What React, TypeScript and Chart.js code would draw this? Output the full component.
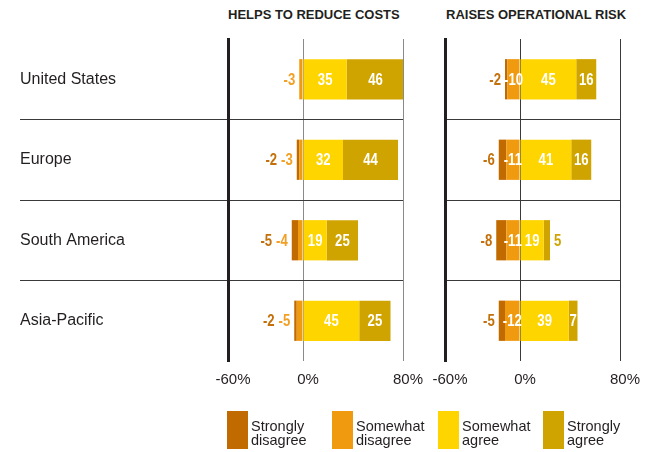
import React, { useEffect, useRef } from "react";
import { Chart, registerables } from "chart.js";

Chart.register(...registerables);

// ---------- data ----------
const categories = ["United States", "Europe", "South America", "Asia-Pacific"];
const seriesNames = ["Strongly disagree", "Somewhat disagree", "Somewhat agree", "Strongly agree"];
const panelTitles = ["HELPS TO REDUCE COSTS", "RAISES OPERATIONAL RISK"];
const tickValues = [-60, 0, 80];

const costsStronglyDisagree = [0, -2, -5, -2];
const costsSomewhatDisagree = [-3, -3, -4, -5];
const costsSomewhatAgree = [35, 32, 19, 45];
const costsStronglyAgree = [46, 44, 25, 25];

const riskStronglyDisagree = [-2, -6, -8, -5];
const riskSomewhatDisagree = [-10, -11, -11, -12];
const riskSomewhatAgree = [45, 41, 19, 39];
const riskStronglyAgree = [16, 16, 5, 7];

// ---------- styles ----------
const FAMILY = "'Liberation Sans', Arial, Helvetica, sans-serif";
const NUM_FONT = "bold 16px 'Liberation Sans', Arial, sans-serif";
const NUM_SQUEEZE = 0.82;
const TEXT = "#231f20";
const COL_SD = "#C06A00";
const COL_SWD = "#F09A10";
const COL_SWA = "#FFD500";
const COL_SA = "#D0A400";
const LBL_SD = "#C4700A";
const LBL_SWD = "#F2A024";
const LBL_SA = "#D0A400";

function drawNum(ctx: CanvasRenderingContext2D, t: string, x: number, y: number, align: CanvasTextAlign, color: string) {
  ctx.save();
  ctx.translate(x, y);
  ctx.scale(NUM_SQUEEZE, 1);
  ctx.fillStyle = color;
  ctx.textAlign = align;
  ctx.textBaseline = "middle";
  ctx.fillText(t, 0, 0);
  ctx.restore();
}

const segLabels = {
  id: "segLabels",
  afterDatasetsDraw(chart: any) {
    const ctx: CanvasRenderingContext2D = chart.ctx;
    const ds = chart.data.datasets;
    const find = (k: string) => ds.findIndex((d: any) => d.key === k);
    const idx = { sd: find("sd"), swd: find("swd"), swa: find("swa"), sa: find("sa") };
    ctx.save();
    ctx.font = NUM_FONT;
    for (let i = 0; i < chart.data.labels.length; i++) {
      const g = (k: "sd" | "swd" | "swa" | "sa") => {
        const el: any = chart.getDatasetMeta(idx[k]).data[i];
        return {
          v: ds[idx[k]].data[i] as number,
          l: Math.min(el.x, el.base),
          r: Math.max(el.x, el.base),
          y: el.y + 1,
        };
      };
      const sd = g("sd"), swd = g("swd"), swa = g("swa"), sa = g("sa");
      const barLeft = Math.min(sd.v !== 0 ? sd.l : swd.l, swd.l);
      let next = barLeft - 4;
      if (swd.v !== 0) {
        const t = String(swd.v);
        if (Math.abs(swd.v) >= 10) {
          drawNum(ctx, t, (swd.l + swd.r) / 2, swd.y, "center", "#ffffff");
        } else {
          drawNum(ctx, t, next, swd.y, "right", LBL_SWD);
          next = next - ctx.measureText(t).width * NUM_SQUEEZE - 4;
        }
      }
      if (sd.v !== 0) {
        drawNum(ctx, String(sd.v), next, sd.y, "right", LBL_SD);
      }
      if (swa.v !== 0) {
        drawNum(ctx, String(swa.v), (swa.l + swa.r) / 2, swa.y, "center", "#ffffff");
      }
      if (sa.v !== 0) {
        if (sa.v >= 7) {
          drawNum(ctx, String(sa.v), (sa.l + sa.r) / 2, sa.y, "center", "#ffffff");
        } else {
          drawNum(ctx, String(sa.v), sa.r + 4, sa.y, "left", LBL_SA);
        }
      }
    }
    ctx.restore();
  },
};

function makeConfig(
  sd: number[],
  swd: number[],
  swa: number[],
  sa: number[],
  withLabels: boolean,
  padLeft: number,
  padRight: number,
  vGridColor: string
): any {
  const common = { barPercentage: 1, categoryPercentage: 0.5, borderWidth: 0, stack: "s" };
  return {
    type: "bar",
    data: {
      labels: categories,
      datasets: [
        { key: "swd", label: seriesNames[1], data: swd, backgroundColor: COL_SWD, ...common },
        { key: "sd", label: seriesNames[0], data: sd, backgroundColor: COL_SD, ...common },
        { key: "swa", label: seriesNames[2], data: swa, backgroundColor: COL_SWA, ...common },
        { key: "sa", label: seriesNames[3], data: sa, backgroundColor: COL_SA, ...common },
      ],
    },
    plugins: [segLabels],
    options: {
      indexAxis: "y",
      responsive: false,
      animation: false,
      events: [],
      layout: { padding: { left: padLeft, right: padRight, top: 39, bottom: 452 - 361 - 30 } },
      plugins: { legend: { display: false }, tooltip: { enabled: false }, title: { display: false } },
      scales: {
        x: {
          type: "linear",
          stacked: true,
          min: -60,
          max: 80,
          afterBuildTicks: (s: any) => {
            s.ticks = tickValues.map((v) => ({ value: v }));
          },
          afterFit: (s: any) => {
            s.height = 30;
          },
          grid: {
            color: (c: any) => (c.tick && c.tick.value === -60 ? "rgba(0,0,0,0)" : vGridColor),
            lineWidth: 1,
            drawTicks: false,
          },
          border: { display: false },
          ticks: {
            autoSkip: false,
            maxRotation: 0,
            callback: (v: any) => v + "%",
            color: TEXT,
            font: { size: 15, family: FAMILY },
            padding: 10,
            labelOffset: 5,
          },
        },
        y: {
          type: "category",
          stacked: true,
          afterFit: (s: any) => {
            s.width = withLabels ? 208 : 0;
          },
          grid: {
            offset: true,
            color: (c: any) =>
              c.index === undefined || c.index === 0 || c.index >= categories.length ? "rgba(0,0,0,0)" : "#3a3a3a",
            lineWidth: 1,
            drawTicks: withLabels,
            tickLength: withLabels ? 208 : 0,
          },
          border: { display: true, color: TEXT, width: 3 },
          ticks: {
            display: withLabels,
            crossAlign: "far",
            color: TEXT,
            font: { size: 16, family: FAMILY },
            padding: 0,
          },
        },
      },
    },
  };
}

function Panel(props: { cfg: () => any }) {
  const ref = useRef<HTMLCanvasElement>(null);
  useEffect(() => {
    if (!ref.current) return;
    const ch = new Chart(ref.current, props.cfg());
    return () => ch.destroy();
  }, []);
  return (
    <canvas
      ref={ref}
      width={651}
      height={452}
      style={{ position: "absolute", left: 0, top: 0, width: 651, height: 452 }}
    />
  );
}

const legendColors = [COL_SD, COL_SWD, COL_SWA, COL_SA];
const legendX = [227, 332, 438, 543];

export default function App() {
  useEffect(() => {
    document.body.style.margin = "0";
  }, []);
  return (
    <div
      style={{
        position: "fixed",
        left: 0,
        top: 0,
        width: 651,
        height: 452,
        background: "#ffffff",
        fontFamily: FAMILY,
        color: TEXT,
      }}
    >
      <div style={{ position: "absolute", left: 228, top: 7, fontSize: 13, fontWeight: "bold", lineHeight: "15px", whiteSpace: "nowrap" }}>
        {panelTitles[0]}
      </div>
      <div style={{ position: "absolute", left: 446, top: 7, fontSize: 13, fontWeight: "bold", lineHeight: "15px", whiteSpace: "nowrap" }}>
        {panelTitles[1]}
      </div>
      <Panel
        cfg={() =>
          makeConfig(costsStronglyDisagree, costsSomewhatDisagree, costsSomewhatAgree, costsStronglyAgree, true, 20, 651 - 403, "#8a8a8a")
        }
      />
      <Panel
        cfg={() =>
          makeConfig(riskStronglyDisagree, riskSomewhatDisagree, riskSomewhatAgree, riskStronglyAgree, false, 445, 651 - 620, "#3a3a3a")
        }
      />
      {seriesNames.map((name, i) => {
        const parts = name.split(" ");
        return (
          <div key={name}>
            <div
              style={{ position: "absolute", left: legendX[i], top: 411, width: 21, height: 38, background: legendColors[i] }}
            />
            <div
              style={{ position: "absolute", left: legendX[i] + 24, top: 420, fontSize: 14.5, lineHeight: "13.5px", whiteSpace: "nowrap" }}
            >
              {parts[0]}
              <br />
              {parts[1]}
            </div>
          </div>
        );
      })}
    </div>
  );
}
